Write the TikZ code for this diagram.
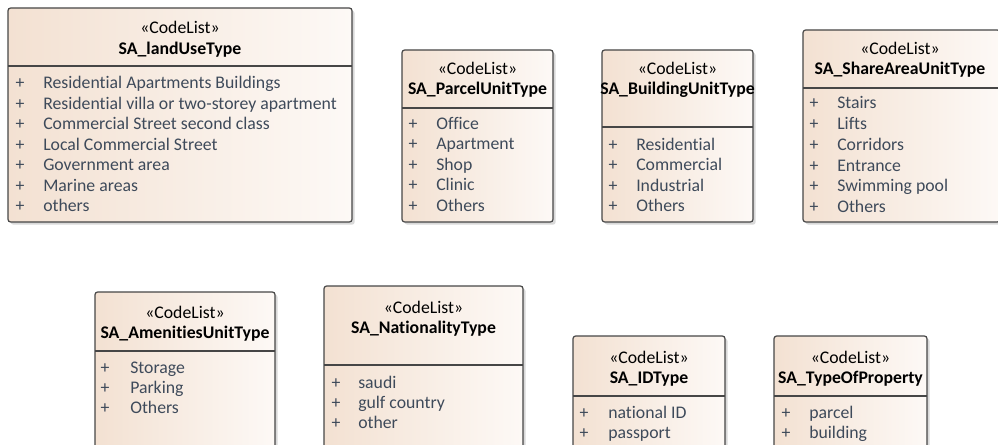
\documentclass[tikz,border=0pt]{standalone}
\usepackage{fontspec}
\setmainfont{Carlito}[RawFeature=-liga]
\usetikzlibrary{shadows}
\definecolor{peach}{RGB}{243,225,210}
\definecolor{cream}{RGB}{253,249,246}
\definecolor{boxline}{RGB}{70,70,70}
\definecolor{itemtext}{RGB}{62,74,90}
\tikzset{
  codebox/.style={draw=boxline,line width=0.9pt,rounded corners=2pt,
    left color=peach,right color=cream,
    drop shadow={shadow xshift=2pt,shadow yshift=-2pt,opacity=0.3,fill=gray}},
  divider/.style={draw=boxline,line width=0.9pt},
  stereo/.style={font=\fontsize{13.3}{15}\selectfont,inner sep=0pt,anchor=base},
  cname/.style={font=\fontsize{13.3}{15}\selectfont\bfseries,inner sep=0pt,anchor=base},
  plus/.style={font=\fontsize{13.3}{15}\selectfont,text=itemtext,inner sep=0pt,anchor=base},
  item/.style={font=\fontsize{13.3}{15}\selectfont,text=itemtext,inner sep=0pt,anchor=base west}
}
\begin{document}
\begin{tikzpicture}[x=0.75pt,y=-0.75pt]
  \useasboundingbox (0,0) rectangle (998,445);
  \clip (0,0) rectangle (998,445);

  % top row
  \draw[codebox] (8,8) rectangle (352,222);
  \draw[divider] (8,66) -- (352,66);
  \node[stereo] (landuse-st) at (180,34) {«CodeList»};
  \node[cname] (landuse) at (180,55) {SA\_landUseType};
  \foreach \t [count=\i from 0] in {Residential Apartments Buildings,
      Residential villa or two-storey apartment,Commercial Street second class,
      Local Commercial Street,Government area,Marine areas,others}{
    \node[plus] (landuse-p\i) at (20,89+20.5*\i) {+};
    \node[item] (landuse-\i) at (43,89+20.5*\i) {\t};
  }

  \draw[codebox] (402,50) rectangle (553,222);
  \draw[divider] (402,108) -- (553,108);
  \node[stereo] (parcel-st) at (477.5,75) {«CodeList»};
  \node[cname] (parcel) at (477.5,95) {SA\_ParcelUnitType};
  \foreach \t [count=\i from 0] in {Office,Apartment,Shop,Clinic,Others}{
    \node[plus] (parcel-p\i) at (413,129.5+20.5*\i) {+};
    \node[item] (parcel-\i) at (436,129.5+20.5*\i) {\t};
  }

  \draw[codebox] (602,50) rectangle (753,222);
  \draw[divider] (602,127) -- (753,127);
  \node[stereo] (building-st) at (677.5,75) {«CodeList»};
  \node[cname] (building) at (677.5,95) {SA\_BuildingUnitType};
  \foreach \t [count=\i from 0] in {Residential,Commercial,Industrial,Others}{
    \node[plus] (building-p\i) at (613,150.5+20.5*\i) {+};
    \node[item] (building-\i) at (636,150.5+20.5*\i) {\t};
  }

  \draw[codebox] (803,30) rectangle (1000,222);
  \draw[divider] (803,88) -- (1000,88);
  \node[stereo] (share-st) at (900,55) {«CodeList»};
  \node[cname] (share) at (900,75) {SA\_ShareAreaUnitType};
  \foreach \t [count=\i from 0] in {Stairs,Lifts,Corridors,Entrance,Swimming pool,Others}{
    \node[plus] (share-p\i) at (814,109+20.7*\i) {+};
    \node[item] (share-\i) at (837,109+20.7*\i) {\t};
  }

  % bottom row
  \draw[codebox] (95,292) rectangle (275,470);
  \draw[divider] (95,351) -- (275,351);
  \node[stereo] (amen-st) at (185,318) {«CodeList»};
  \node[cname] (amen) at (185,338) {SA\_AmenitiesUnitType};
  \foreach \t [count=\i from 0] in {Storage,Parking,Others}{
    \node[plus] (amen-p\i) at (105,373+20*\i) {+};
    \node[item] (amen-\i) at (130,373+20*\i) {\t};
  }

  \draw[codebox] (324,286) rectangle (523,470);
  \draw[divider] (324,365) -- (523,365);
  \node[stereo] (nation-st) at (423.5,313) {«CodeList»};
  \node[cname] (nation) at (423.5,333) {SA\_NationalityType};
  \foreach \t [count=\i from 0] in {saudi,gulf country,other}{
    \node[plus] (nation-p\i) at (336,388+20*\i) {+};
    \node[item] (nation-\i) at (358,388+20*\i) {\t};
  }

  \draw[codebox] (573,336) rectangle (725,470);
  \draw[divider] (573,396) -- (725,396);
  \node[stereo] (idtype-st) at (649,363) {«CodeList»};
  \node[cname] (idtype) at (649,383) {SA\_IDType};
  \foreach \t [count=\i from 0] in {national ID,passport}{
    \node[plus] (idtype-p\i) at (584,418+20*\i) {+};
    \node[item] (idtype-\i) at (608,418+20*\i) {\t};
  }

  \draw[codebox] (774,336) rectangle (927,470);
  \draw[divider] (774,396) -- (927,396);
  \node[stereo] (property-st) at (850.5,363) {«CodeList»};
  \node[cname] (property) at (850.5,383) {SA\_TypeOfProperty};
  \foreach \t [count=\i from 0] in {parcel,building}{
    \node[plus] (property-p\i) at (786,418+20*\i) {+};
    \node[item] (property-\i) at (809,418+20*\i) {\t};
  }
\end{tikzpicture}
\end{document}
